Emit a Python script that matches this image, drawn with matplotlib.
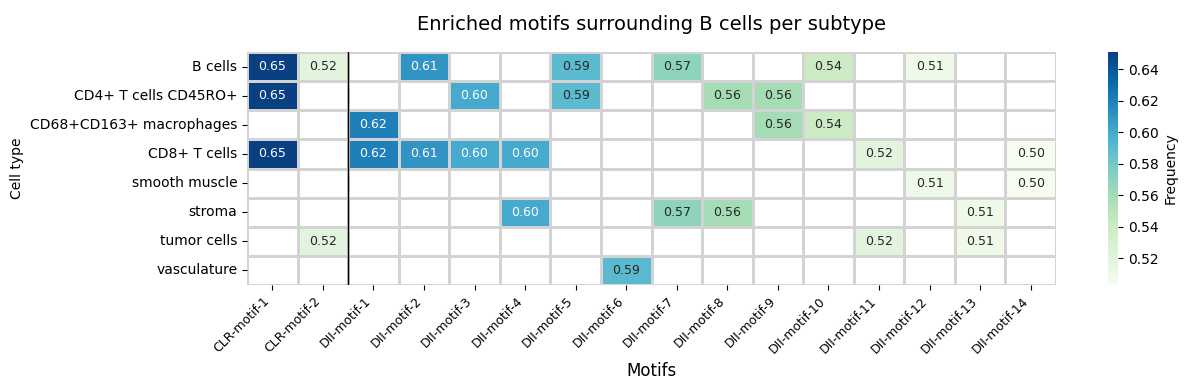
import numpy as np
import pandas as pd
import matplotlib
matplotlib.use("Agg")
import matplotlib.pyplot as plt
import seaborn as sns

rows = ["B cells", "CD4+ T cells CD45RO+", "CD68+CD163+ macrophages", "CD8+ T cells",
        "smooth muscle", "stroma", "tumor cells", "vasculature"]
cols = ["CLR-motif-1", "CLR-motif-2"] + [f"DII-motif-{i}" for i in range(1, 15)]

n = np.nan
b_cells      = [0.651, 0.52, n, 0.61, n, n, 0.59, n, 0.57, n, n, 0.54, n, 0.51, n, n]
cd4          = [0.651, n, n, n, 0.60, n, 0.59, n, n, 0.56, 0.56, n, n, n, n, n]
macrophages  = [n, n, 0.62, n, n, n, n, n, n, n, 0.56, 0.54, n, n, n, n]
cd8          = [0.651, n, 0.62, 0.61, 0.60, 0.60, n, n, n, n, n, n, 0.52, n, n, 0.503]
smooth       = [n, n, n, n, n, n, n, n, n, n, n, n, n, 0.51, n, 0.503]
stroma       = [n, n, n, n, n, 0.60, n, n, 0.57, 0.56, n, n, n, n, 0.51, n]
tumor        = [n, 0.52, n, n, n, n, n, n, n, n, n, n, 0.52, n, 0.51, n]
vasculature  = [n, n, n, n, n, n, n, 0.59, n, n, n, n, n, n, n, n]

df = pd.DataFrame([b_cells, cd4, macrophages, cd8, smooth, stroma, tumor, vasculature],
                  index=rows, columns=cols)

fig = plt.figure(figsize=(11.89, 3.9), dpi=100)
ax = fig.add_axes([247/1189, 1-285/390, (1056-247)/1189, (285-52)/390])
cax = fig.add_axes([1108/1189, 1-285/390, 10/1189, (285-52)/390])

sns.heatmap(df, ax=ax, cbar_ax=cax, cmap="GnBu", annot=True, fmt=".2f",
            annot_kws={"fontsize": 9}, linewidths=1, linecolor="lightgray",
            cbar_kws={"label": "Frequency"})
ax.axvline(2, color="black", linewidth=1)
ax.set_title("Enriched motifs surrounding B cells per subtype", fontsize=14, pad=16)
ax.set_xlabel("Motifs", fontsize=12)
ax.set_ylabel("Cell type", fontsize=10)
ax.set_xticklabels(cols, rotation=45, ha="right", fontsize=9)
ax.set_yticklabels(rows, rotation=0, fontsize=10)
cax.tick_params(labelsize=10)

fig.savefig("out.png", dpi=100)
